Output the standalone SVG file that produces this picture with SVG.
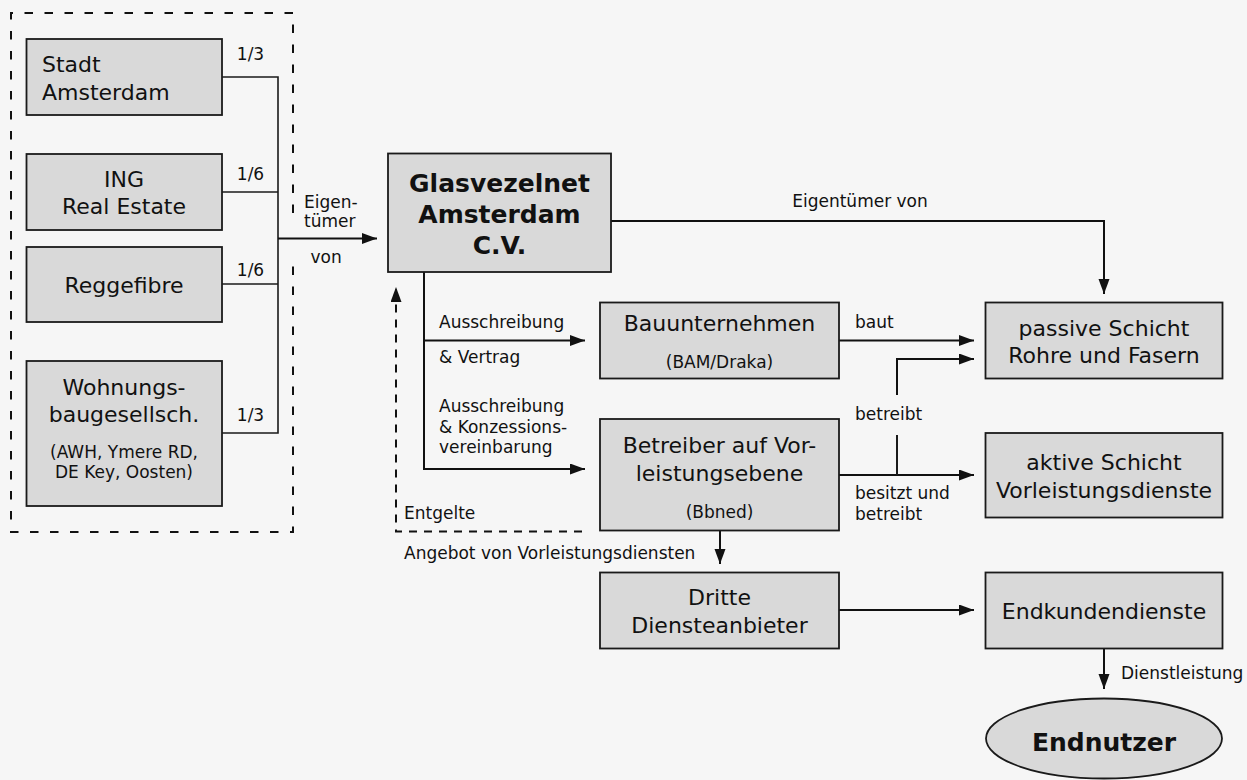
<svg xmlns="http://www.w3.org/2000/svg" width="1247" height="780" viewBox="0 0 1247 780">
<style>
.bg{fill:#f6f6f6}
.box{fill:#d9d9d9;stroke:#1a1a1a;stroke-width:1.8}
.t{font-family:"DejaVu Sans","Verdana",sans-serif;font-size:22px;fill:#111}
.s{font-family:"DejaVu Sans","Verdana",sans-serif;font-size:17px;fill:#111}
.b{font-family:"DejaVu Sans","Verdana",sans-serif;font-size:25px;font-weight:bold;fill:#111}
.c{text-anchor:middle}
.ln{fill:none;stroke:#1a1a1a;stroke-width:1.6}
.ar{fill:none;stroke:#111;stroke-width:2;marker-end:url(#ah)}
.ds{fill:none;stroke:#111;stroke-width:2;stroke-dasharray:8.5,11.5}
.ds2{fill:none;stroke:#111;stroke-width:2;stroke-dasharray:8,7}
</style>
<defs>
<marker id="ah" markerUnits="userSpaceOnUse" markerWidth="16" markerHeight="12" refX="15" refY="5.5" orient="auto">
<path d="M0,0 L15,5.5 L0,11 z" fill="#111"/>
</marker>
</defs>
<rect class="bg" x="0" y="0" width="1247" height="780"/>

<g id="owners-frame">
<path class="ds" d="M293,213 V13 H11 V532 H293 V258"/>
</g>

<g id="connectors">
<path class="ln" d="M222,77 H278 V433 H222"/>
<path class="ln" d="M222,192 H278"/>
<path class="ln" d="M222,284 H278"/>
<path class="ar" d="M278,238.5 H377"/>
<path class="ar" d="M611,221 H1104 V294"/>
<path class="ar" d="M424,272 V469 H585"/>
<path class="ar" d="M424,340.5 H585"/>
<path class="ar" d="M839,340.5 H974"/>
<path class="ar" d="M897,395 V359 H974"/>
<path class="ar" d="M839,475 H974"/>
<path class="ln" style="stroke-width:2" d="M897,435 V475"/>
<path class="ar" d="M720,531 V564"/>
<path class="ar" d="M839,610 H974"/>
<path class="ar" d="M1104,648 V689"/>
<path class="ds2" style="marker-end:url(#ah)" d="M582,531.5 H396 V287"/>
</g>

<g id="labels">
<text class="s c" x="250.5" y="59.5">1/3</text>
<text class="s c" x="250.5" y="180">1/6</text>
<text class="s c" x="250.5" y="276">1/6</text>
<text class="s c" x="250.5" y="421">1/3</text>
<text class="s" x="304" y="207.5">Eigen-</text>
<text class="s" x="304" y="226.5">tümer</text>
<text class="s" x="310.5" y="263">von</text>
<text class="s c" x="860" y="207">Eigentümer von</text>
<text class="s" x="439" y="327.5">Ausschreibung</text>
<text class="s" x="439" y="363">&amp; Vertrag</text>
<text class="s" x="439" y="412">Ausschreibung</text>
<text class="s" x="439" y="432.5">&amp; Konzessions-</text>
<text class="s" x="439" y="452.5">vereinbarung</text>
<text class="s" x="404" y="519">Entgelte</text>
<text class="s" x="404" y="559">Angebot von Vorleistungsdiensten</text>
<text class="s" x="855" y="327.5">baut</text>
<text class="s" x="855" y="419.5">betreibt</text>
<text class="s" x="855" y="499">besitzt und</text>
<text class="s" x="855" y="519.5">betreibt</text>
<text class="s" x="1121" y="679">Dienstleistung</text>
</g>

<g id="stadt">
<rect class="box" x="26.5" y="39" width="195.5" height="76"/>
<text class="t" x="42" y="72">Stadt</text>
<text class="t" x="42" y="99.5">Amsterdam</text>
</g>
<g id="ing">
<rect class="box" x="26.5" y="154" width="195.5" height="76"/>
<text class="t c" x="124" y="187">ING</text>
<text class="t c" x="124" y="213.5">Real Estate</text>
</g>
<g id="reggefibre">
<rect class="box" x="26.5" y="247" width="195.5" height="75"/>
<text class="t c" x="124" y="293">Reggefibre</text>
</g>
<g id="wohnungs">
<rect class="box" x="26.5" y="361" width="195.5" height="145"/>
<text class="t c" x="124" y="394.5">Wohnungs-</text>
<text class="t c" x="124" y="422">baugesellsch.</text>
<text class="s c" x="124" y="458">(AWH, Ymere RD,</text>
<text class="s c" x="124" y="477.5">DE Key, Oosten)</text>
</g>
<g id="glasvezelnet">
<rect class="box" x="388" y="153.5" width="223" height="118.5"/>
<text class="b c" x="499.5" y="191.5">Glasvezelnet</text>
<text class="b c" x="499.5" y="222.5">Amsterdam</text>
<text class="b c" x="499.5" y="253.5">C.V.</text>
</g>
<g id="bauunternehmen">
<rect class="box" x="600" y="302.5" width="239" height="76"/>
<text class="t c" x="719.5" y="331">Bauunternehmen</text>
<text class="s c" x="719.5" y="368">(BAM/Draka)</text>
</g>
<g id="betreiber">
<rect class="box" x="600" y="419" width="239" height="111.5"/>
<text class="t c" x="719.5" y="453">Betreiber auf Vor-</text>
<text class="t c" x="719.5" y="480.5">leistungsebene</text>
<text class="s c" x="719.5" y="517.5">(Bbned)</text>
</g>
<g id="dritte">
<rect class="box" x="600" y="572.5" width="239" height="76"/>
<text class="t c" x="719.5" y="605">Dritte</text>
<text class="t c" x="719.5" y="633">Diensteanbieter</text>
</g>
<g id="passive">
<rect class="box" x="985.5" y="302.5" width="237" height="76"/>
<text class="t c" x="1104" y="336">passive Schicht</text>
<text class="t c" x="1104" y="363">Rohre und Fasern</text>
</g>
<g id="aktive">
<rect class="box" x="985.5" y="433" width="237" height="84.5"/>
<text class="t c" x="1104" y="470">aktive Schicht</text>
<text class="t c" x="1104" y="498">Vorleistungsdienste</text>
</g>
<g id="endkunden">
<rect class="box" x="985.5" y="572.5" width="237" height="76"/>
<text class="t c" x="1104" y="619">Endkundendienste</text>
</g>
<g id="endnutzer">
<ellipse class="box" cx="1104" cy="738.5" rx="118" ry="40"/>
<text class="b c" x="1104" y="750.5">Endnutzer</text>
</g>
</svg>
